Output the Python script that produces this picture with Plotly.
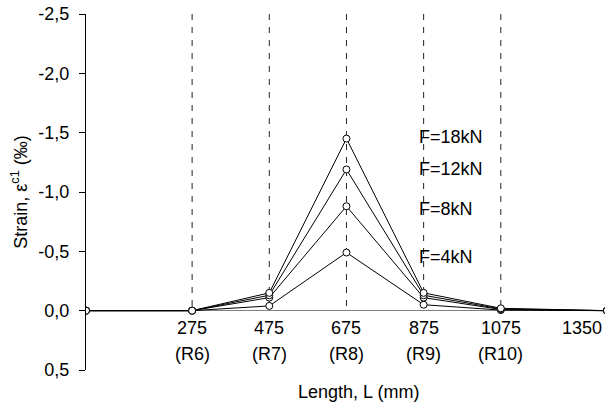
import plotly.graph_objects as go

# ---- data ----
x_mm = [0, 275, 475, 675, 875, 1075, 1350]
strain_18kN = [0, 0, -0.15, -1.45, -0.15, -0.02, 0]
strain_12kN = [0, 0, -0.13, -1.19, -0.13, -0.015, 0]
strain_8kN = [0, 0, -0.11, -0.88, -0.11, -0.01, 0]
strain_4kN = [0, 0, -0.04, -0.49, -0.05, -0.005, 0]
series_names = ["F=18kN", "F=12kN", "F=8kN", "F=4kN"]
label_x = [858, 858, 858, 858]
label_y = [-1.466, -1.197, -0.86, -0.455]

dash_x = [275, 475, 675, 875, 1075]
tick_num = ["275", "475", "675", "875", "1075", "1350"]
tick_ref = ["(R6)", "(R7)", "(R8)", "(R9)", "(R10)", ""]
tick_pos = [275, 475, 675, 875, 1075, 1350]

y_tickvals = [-2.5, -2.0, -1.5, -1.0, -0.5, 0.0, 0.5]
y_ticktext = ["-2,5", "-2,0", "-1,5", "-1,0", "-0,5", "0,0", "0,5"]

X_MAX = 1345
FONT = "Arial, Liberation Sans, sans-serif"

fig = go.Figure()

# dashed vertical lines
for xv in dash_x:
    fig.add_shape(type="line", xref="x", yref="y", x0=xv, x1=xv, y0=-2.5, y1=0,
                  line=dict(color="#222222", width=1, dash="6px,7px"), layer="below")

for ys in [strain_4kN, strain_8kN, strain_12kN, strain_18kN]:
    fig.add_trace(go.Scatter(
        x=x_mm, y=ys, mode="lines+markers",
        line=dict(color="black", width=1),
        marker=dict(symbol="circle", size=7, color="white",
                    line=dict(color="black", width=1)),
        showlegend=False))

annotations = []
for name, lx, ly in zip(series_names, label_x, label_y):
    annotations.append(dict(x=lx, y=ly, xref="x", yref="y", text=name, showarrow=False,
                            xanchor="left", yanchor="middle",
                            font=dict(family=FONT, size=18, color="black")))

for i, (xp, tn, tr) in enumerate(zip(tick_pos, tick_num, tick_ref)):
    last = i == len(tick_pos) - 1
    annotations.append(dict(x=min(xp, X_MAX), y=0, xref="x", yref="y", text=tn,
                            showarrow=False,
                            xanchor="right" if last else "center", yanchor="middle",
                            xshift=-1 if last else 0,
                            yshift=-17, font=dict(family=FONT, size=18, color="black")))
    if tr:
        annotations.append(dict(x=xp, y=0, xref="x", yref="y", text=tr, showarrow=False,
                                xanchor="center", yanchor="middle", yshift=-43,
                                font=dict(family=FONT, size=18, color="black")))

annotations.append(dict(x=0.526, y=-0.062, xref="paper", yref="paper",
                        text="Length, L (mm)", showarrow=False,
                        xanchor="center", yanchor="middle",
                        font=dict(family=FONT, size=18, color="black")))

fig.update_layout(
    width=605, height=417,
    margin=dict(l=86, r=0, t=14, b=47),
    plot_bgcolor="white", paper_bgcolor="white",
    font=dict(family=FONT, size=18, color="black"),
    annotations=annotations,
    xaxis=dict(range=[0, X_MAX], showgrid=False, zeroline=False, showline=False,
               showticklabels=False, ticks="", automargin=False),
    yaxis=dict(range=[0.5, -2.5], tickvals=y_tickvals, ticktext=y_ticktext,
               automargin=False,
               showgrid=False, showline=True, linecolor="black", linewidth=1,
               ticks="outside", ticklen=6, tickcolor="black", tickwidth=1,
               ticklabelstandoff=6,
               zeroline=True, zerolinecolor="#808080", zerolinewidth=1,
               tickfont=dict(family=FONT, size=18, color="black"),
               title=dict(text="Strain, ε<sup>c1</sup> (‰)", standoff=6,
                          font=dict(family=FONT, size=18, color="black"))),
)

fig.write_html("out.html",
               config={"displayModeBar": False},
               post_script="document.body.style.margin='0';document.body.style.overflow='hidden';")
